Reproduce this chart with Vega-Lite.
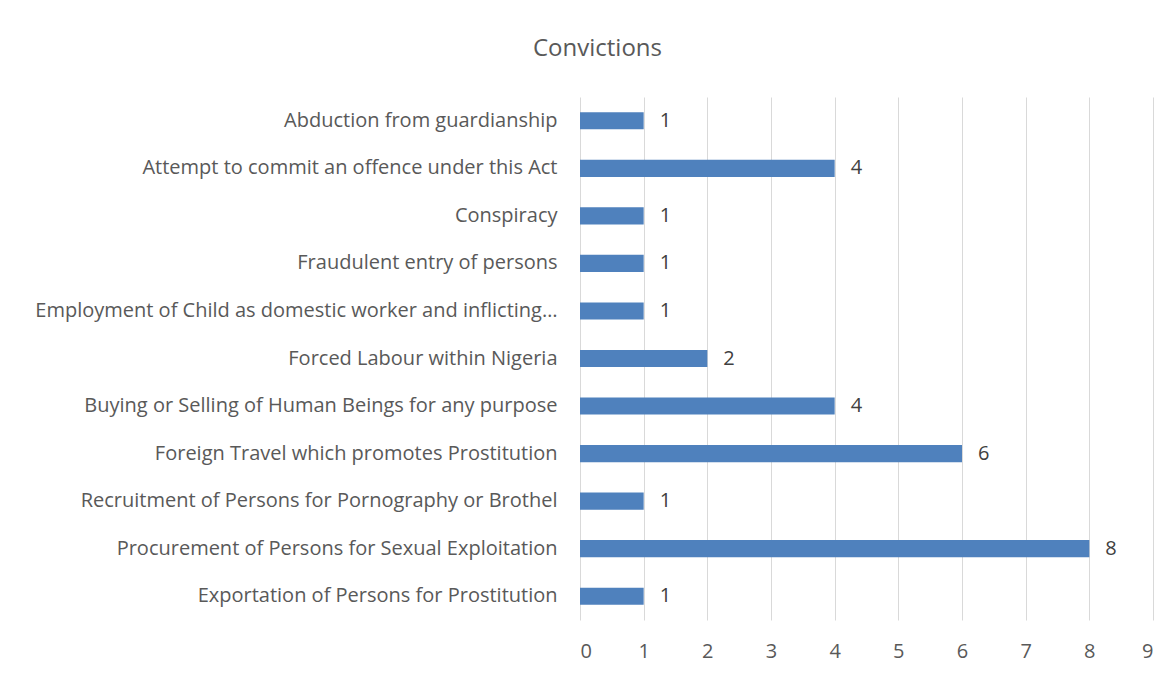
{
  "$schema": "https://vega.github.io/schema/vega-lite/v6.json",
  "autosize": "none",
  "width": 573,
  "height": 523,
  "padding": {"left": 580, "top": 97, "right": 22, "bottom": 56},
  "background": "white",
  "title": {
    "text": "Convictions",
    "font": "Open Sans",
    "fontSize": 24,
    "fontWeight": "normal",
    "color": "#595959",
    "anchor": "middle",
    "dx": -269,
    "offset": 36
  },
  "data": {
    "values": [
      {"offence": "Abduction from guardianship", "convictions": 1},
      {"offence": "Attempt to commit an offence under this Act", "convictions": 4},
      {"offence": "Conspiracy\u00a0", "convictions": 1},
      {"offence": "Fraudulent entry of persons", "convictions": 1},
      {"offence": "Employment of Child as domestic worker and inflicting…", "convictions": 1},
      {"offence": "Forced Labour within Nigeria", "convictions": 2},
      {"offence": "Buying or Selling of Human Beings for any purpose", "convictions": 4},
      {"offence": "Foreign Travel which promotes Prostitution", "convictions": 6},
      {"offence": "Recruitment of Persons for Pornography or Brothel", "convictions": 1},
      {"offence": "Procurement of Persons for Sexual Exploitation", "convictions": 8},
      {"offence": "Exportation of Persons for Prostitution", "convictions": 1}
    ]
  },
  "config": {
    "view": {"stroke": null},
    "font": "Open Sans"
  },
  "encoding": {
    "y": {
      "field": "offence",
      "type": "nominal",
      "sort": null,
      "title": null,
      "scale": {"paddingInner": 0.64, "paddingOuter": 0.32},
      "axis": {
        "domain": false,
        "ticks": false,
        "grid": false,
        "labelPadding": 23,
        "labelFontSize": 20,
        "labelColor": "#595959",
        "labelFont": "Open Sans",
        "labelLimit": 700
      }
    },
    "x": {
      "field": "convictions",
      "type": "quantitative",
      "title": null,
      "scale": {"domain": [0, 9], "nice": false},
      "axis": {
        "values": [0, 1, 2, 3, 4, 5, 6, 7, 8, 9],
        "domain": false,
        "ticks": false,
        "grid": true,
        "gridColor": "#d9d9d9",
        "gridWidth": 1,
        "labelPadding": 21,
        "labelFontSize": 20,
        "labelColor": "#595959",
        "labelFont": "Open Sans"
      }
    }
  },
  "layer": [
    {"mark": {"type": "bar", "color": "#4f81bd"}},
    {
      "mark": {"type": "text", "align": "left", "dx": 16, "fontSize": 20, "color": "#404040", "font": "Open Sans"},
      "encoding": {"text": {"field": "convictions", "type": "quantitative"}}
    }
  ]
}
